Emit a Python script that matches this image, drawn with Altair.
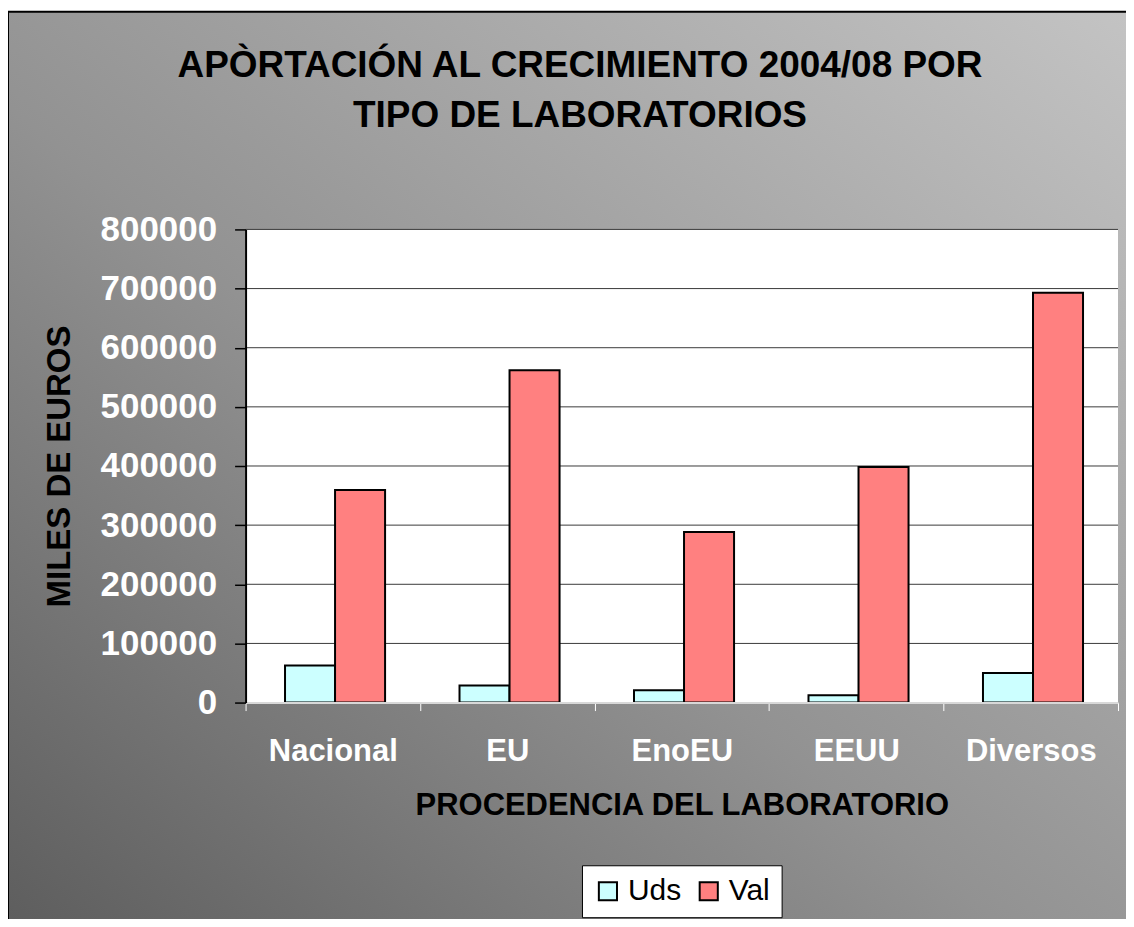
import altair as alt
import pandas as pd

categories = ["Nacional", "EU", "EnoEU", "EEUU", "Diversos"]
uds = [62500, 29000, 21000, 12500, 50000]
val = [359500, 562000, 288500, 398500, 693000]
series_names = ["Uds", "Val"]
series_colors = ["#CCFFFF", "#FF8080"]
y_ticks = [0, 100000, 200000, 300000, 400000, 500000, 600000, 700000, 800000]

rows = []
for c, u, v in zip(categories, uds, val):
    rows.append({"cat": c, "serie": "Uds", "value": u})
    rows.append({"cat": c, "serie": "Val", "value": v})
df = pd.DataFrame(rows)

FONT = "Liberation Sans"
W, H = 874, 474
ydom = [0, 800000]

one = pd.DataFrame({"a": [0]})

grad = alt.Gradient(
    gradient="linear",
    stops=[
        alt.GradientStop(color="#5c5c5c", offset=0),
        alt.GradientStop(color="#929292", offset=0.45),
        alt.GradientStop(color="#c4c4c4", offset=1),
    ],
    x1=0, y1=1, x2=1, y2=0,
)

bg = alt.Chart(one).mark_rect(fill=grad, stroke="black", strokeWidth=2).encode(
    x=alt.value(-238), x2=alt.value(900), y=alt.value(-218), y2=alt.value(720)
)

plotbg = alt.Chart(one).mark_rect(fill="white").encode(
    x=alt.value(0), x2=alt.value(W), y=alt.value(0), y2=alt.value(H)
)

y_axis = alt.Axis(
    title="MILES DE EUROS",
    values=y_ticks,
    format="d",
    labelFont=FONT, labelFontSize=35, labelFontWeight="bold", labelColor="white",
    labelPadding=18,
    titleFont=FONT, titleFontSize=33, titleFontWeight="bold", titleColor="black",
    titlePadding=24,
    domainColor="black", domainWidth=2,
    tickColor="black", tickSize=11, tickWidth=1.5,
    grid=False,
    zindex=1,
)
y_scale = alt.Scale(domain=ydom, nice=False)

grid = alt.Chart(pd.DataFrame({"value": y_ticks})).mark_rule(color="#3a3a3a", strokeWidth=1).encode(
    y=alt.Y("value:Q", scale=y_scale, axis=y_axis)
)

bars = alt.Chart(df).mark_bar(stroke="black", strokeWidth=2).encode(
    x=alt.X(
        "cat:N",
        sort=categories,
        scale=alt.Scale(paddingInner=0, paddingOuter=0),
        axis=alt.Axis(
            title="PROCEDENCIA DEL LABORATORIO",
            labelAngle=0,
            labelFont=FONT, labelFontSize=31, labelFontWeight="bold", labelColor="white",
            labelPadding=26,
            titleFont=FONT, titleFontSize=31, titleFontWeight="bold", titleColor="black",
            titlePadding=24,
            domainColor="#d8d8d8", domainWidth=2,
            tickColor="white", tickSize=8, tickWidth=1, tickBand="extent",
            zindex=1,
        ),
    ),
    xOffset=alt.XOffset("serie:N", sort=series_names,
                        scale=alt.Scale(paddingInner=0, paddingOuter=0.744, align=0.53)),
    y=alt.Y("value:Q", scale=y_scale, axis=y_axis),
    color=alt.Color(
        "serie:N",
        scale=alt.Scale(domain=series_names, range=series_colors),
        legend=alt.Legend(
            title=None,
            orient="none",
            legendX=337,
            legendY=637,
            direction="horizontal",
            fillColor="white",
            strokeColor="black",
            padding=11,
            symbolType="square",
            symbolSize=330,
            symbolStrokeColor="black",
            symbolStrokeWidth=2,
            labelFont=FONT,
            labelFontSize=30,
            labelColor="black",
            columnPadding=12,
            labelOffset=5,
        ),
    ),
)

chart = alt.layer(bg, plotbg, grid, bars).properties(
    width=W,
    height=H,
    autosize=alt.AutoSizeParams(type="none"),
    padding={"left": 238, "top": 221, "right": 8, "bottom": 216},
    title=alt.TitleParams(
        text=["APÒRTACIÓN AL CRECIMIENTO 2004/08 POR", "TIPO DE LABORATORIOS"],
        font=FONT, fontSize=37, fontWeight="bold", color="black",
        anchor="middle", lineHeight=50, offset=-124, dx=-102,
    ),
).configure_view(stroke=None).configure(background="white")

chart.save("out.html", embed_options={"renderer": "svg", "actions": False})
